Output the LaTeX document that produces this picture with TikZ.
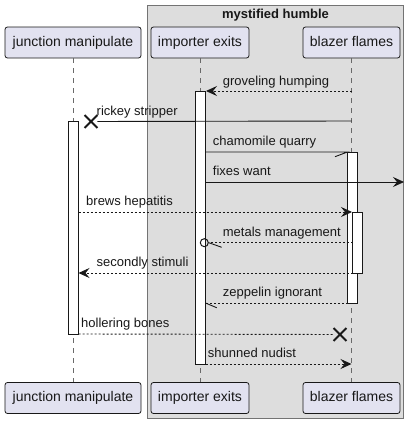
\documentclass[tikz,border=0pt]{standalone}
\usepackage{fontspec}
\setmainfont{Liberation Sans}
\usetikzlibrary{arrows.meta,shapes.misc}
\definecolor{partfill}{HTML}{E2E2F0}
\definecolor{linecol}{HTML}{181818}
\definecolor{boxfill}{HTML}{DDDDDD}
\begin{document}
\begin{tikzpicture}[x=1pt,y=-1pt,
  part/.style={draw=linecol, fill=partfill, rounded corners=2.5pt, line width=0.8pt,
    minimum height=31pt, text height=10pt, text depth=3pt,
    font=\fontsize{14}{16}\selectfont, inner sep=0pt, text=linecol},
  life/.style={draw=linecol!65, dash pattern=on 5pt off 5pt, line width=0.7pt},
  act/.style={draw=linecol, fill=white, line width=1pt, minimum width=10pt, inner sep=0pt},
  msg/.style={draw=linecol, line width=0.9pt},
  rmsg/.style={msg, dash pattern=on 2pt off 2pt},
  lbl/.style={font=\fontsize{13}{15}\selectfont, anchor=base west, inner sep=0pt, text=linecol},
  tip/.style={-{Stealth[length=11pt,width=10pt,inset=4pt]}},
  xmark/.style={cross out, draw=linecol, line width=1.8pt, minimum size=11pt, inner sep=0pt},
  ring/.style={circle, draw=linecol, line width=1pt, minimum size=8pt, inner sep=0pt},
]
\useasboundingbox (0,0) rectangle (409,423);
% group box
\draw[fill=boxfill, draw=black!55, line width=1pt] (147.5,5) rectangle (403,418.5);
\node[font=\bfseries\fontsize{13}{15}\selectfont, anchor=base, inner sep=0pt, text=linecol] (title) at (275.5,18) {mystified humble};
% participants
\node[part, minimum width=136pt] (jt) at (73,42.5) {junction manipulate};
\node[part, minimum width=98pt] (it) at (200,42.5) {importer exits};
\node[part, minimum width=97pt] (bt) at (351.5,42.5) {blazer flames};
\node[part, minimum width=136pt] (jb) at (73,398) {junction manipulate};
\node[part, minimum width=98pt] (ib) at (200,398) {importer exits};
\node[part, minimum width=97pt] (bb) at (351.5,398) {blazer flames};
% lifelines
\draw[life] (jt.south) -- (jb.north);
\draw[life] (it.south) -- (ib.north);
\draw[life] (bt.south) -- (bb.north);
% activations
\node[act, minimum height=273pt] (ai) at (200.5,227.5) {};
\node[act, minimum height=212.5pt] (aj) at (73.3,227.75) {};
\node[act, minimum height=151pt] (ab1) at (352.5,227.5) {};
\node[act, minimum height=61pt] (ab2) at (357.5,242.7) {};
% endpoints
\coordinate (b1) at (351.5,91);   \coordinate (i1) at (206,91);
\coordinate (b2) at (351.5,121);
\node[xmark] (x2) at (91,121.5) {};
\coordinate (i3) at (205.5,152);  \coordinate (b3) at (347.5,152); \coordinate (h3) at (335,156.7);
\coordinate (i4) at (205.5,182);  \coordinate (e4) at (404,182);
\coordinate (j5) at (78.5,212);   \coordinate (b5) at (352,212);
\coordinate (b6) at (352.5,242.7); \node[ring] (c6) at (204.3,242.7) {}; \coordinate (h6) at (221.7,247.3);
\coordinate (b7) at (352.5,273);  \coordinate (j7) at (78.5,273);
\coordinate (b8) at (347.5,303);  \coordinate (i8) at (205.5,303); \coordinate (h8) at (216.7,307.7);
\coordinate (j9) at (78.5,334);
\node[xmark] (x9) at (340,334.5) {};
\coordinate (i10) at (205.5,364); \coordinate (b10) at (351.5,364);
% messages
\draw[rmsg, tip] (b1) -- (i1);
\node[lbl] (l1) at (222.7,85) {groveling humping};
\draw[msg] (b2) -- (x2);
\node[lbl] (l2) at (96.5,115) {rickey stripper};
\draw[msg] (i3) -- (b3) -- (h3);
\node[lbl] (l3) at (212.7,145.5) {chamomile quarry};
\draw[msg, tip] (i4) -- (e4);
\node[lbl] (l4) at (212.7,175.5) {fixes want};
\draw[rmsg, tip] (j5) -- (b5);
\node[lbl] (l5) at (86,205.5) {brews hepatitis};
\draw[rmsg] (b6) -- (c6.east);
\draw[msg] (c6.east) -- (h6);
\node[lbl] (l6) at (222.7,236) {metals management};
\draw[rmsg, tip] (b7) -- (j7);
\node[lbl] (l7) at (96.5,266.5) {secondly stimuli};
\draw[rmsg] (b8) -- (i8);
\draw[msg] (i8) -- (h8);
\node[lbl] (l8) at (222.7,296.5) {zeppelin ignorant};
\draw[rmsg] (j9) -- (x9);
\node[lbl] (l9) at (81,327.5) {hollering bones};
\draw[rmsg, tip] (i10) -- (b10);
\node[lbl] (l10) at (207.7,357.5) {shunned nudist};
\end{tikzpicture}
\end{document}
